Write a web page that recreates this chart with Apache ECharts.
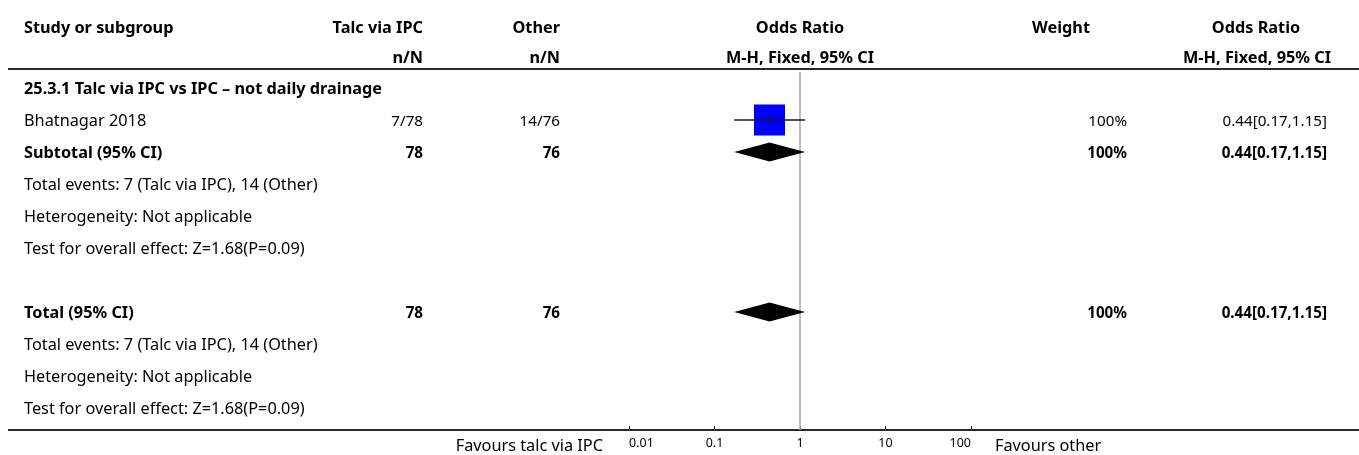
<!DOCTYPE html>
<html>
<head>
<meta charset="utf-8">
<script src="https://cdn.jsdelivr.net/npm/echarts@6/dist/echarts.min.js"></script>
<style>
  html, body { margin: 0; padding: 0; background: #fff; }
  #chart { width: 1359px; height: 455px; }
</style>
</head>
<body>
<div id="chart"></div>
<script>
// ---- Data -------------------------------------------------------------
const headerRow1 = ['Study or subgroup', 'Talc via IPC', 'Other', 'Odds Ratio', 'Weight', 'Odds Ratio'];
const headerRow2 = ['', 'n/N', 'n/N', 'M-H, Fixed, 95% CI', '', 'M-H, Fixed, 95% CI'];

const subgroupTitle = '25.3.1 Talc via IPC vs IPC – not daily drainage';

// individual studies
const studyNames   = ['Bhatnagar 2018'];
const studyTalc    = ['7/78'];
const studyOther   = ['14/76'];
const studyOR      = [0.44];
const studyLow     = [0.17];
const studyHigh    = [1.15];
const studyWeight  = [100];

// pooled estimates (subtotal, total)
const pooledNames  = ['Subtotal (95% CI)', 'Total (95% CI)'];
const pooledTalcN  = ['78', '78'];
const pooledOtherN = ['76', '76'];
const pooledOR     = [0.44, 0.44];
const pooledLow    = [0.17, 0.17];
const pooledHigh   = [1.15, 1.15];
const pooledWeight = ['100%', '100%'];

const summaryLines = [
  'Total events: 7 (Talc via IPC), 14 (Other)',
  'Heterogeneity: Not applicable',
  'Test for overall effect: Z=1.68(P=0.09)'
];

const tickValues = [0.01, 0.1, 1, 10, 100];
const favoursLeft = 'Favours talc via IPC';
const favoursRight = 'Favours other';

// row layout of the table (row index from top)
const rowSubgroup = 0;
const rowStudies = [1];
const rowPooled = [2, 7];
const rowSummaryA = [3, 4, 5];
const rowSummaryB = [8, 9, 10];

// ---- Chart ------------------------------------------------------------
const FONT = '"Noto Sans"';
const SIZE = 16.3;     // labels and headings
const NUM = 15.2;      // numeric cells
const DY = 1.5;        // optical baseline nudge for text
const chart = echarts.init(document.getElementById('chart'), null, { renderer: 'canvas' });

const grid = { left: 629, right: 388, top: 72, bottom: 25 };
const yMin = -0.5, yMax = 10.6875;

function fmtCI(or, lo, hi) {
  return or.toFixed(2) + '[' + lo.toFixed(2) + ',' + hi.toFixed(2) + ']';
}

const studyData = studyNames.map((n, i) => [studyOR[i], rowStudies[i], studyLow[i], studyHigh[i], studyWeight[i]]);
const pooledData = pooledNames.map((n, i) => [pooledOR[i], rowPooled[i], pooledLow[i], pooledHigh[i]]);

chart.setOption({
  animation: false,
  grid: grid,
  xAxis: {
    type: 'log', logBase: 10, min: 0.01, max: 100, position: 'bottom',
    splitLine: { show: false },
    axisLine: { show: true, onZero: false, lineStyle: { color: '#222', width: 2 } },
    axisTick: { show: true, inside: true, length: 4, lineStyle: { color: '#222', width: 1 } },
    axisLabel: {
      margin: 7, fontFamily: 'Noto Sans', fontSize: 12.5, color: '#000',
      showMinLabel: true, showMaxLabel: true, alignMinLabel: 'left', alignMaxLabel: 'right',
      formatter: v => {
        const hit = tickValues.find(t => Math.abs(Math.log10(t) - Math.log10(v)) < 1e-6);
        return hit === undefined ? '' : String(hit);
      }
    }
  },
  yAxis: {
    type: 'value', min: yMin, max: yMax, inverse: true, show: false
  },
  series: [
    {
      // line of no effect
      type: 'scatter', data: [], silent: true,
      markLine: {
        symbol: 'none', silent: true, label: { show: false },
        lineStyle: { color: '#a6a6a6', width: 1.5, type: 'solid' },
        data: [{ xAxis: 1 }]
      }
    },
    {
      // study estimates: weighted box, CI whisker, point mark
      type: 'custom',
      data: studyData,
      z: 5,
      renderItem: (params, api) => {
        const or = api.value(0), row = api.value(1), lo = api.value(2), hi = api.value(3), w = api.value(4);
        const c = api.coord([or, row]);
        const pLo = api.coord([lo, row]);
        const pHi = api.coord([hi, row]);
        const box = 31 * Math.sqrt(w / 100);
        return {
          type: 'group',
          children: [
            { type: 'rect', z2: 1, shape: { x: c[0] - box / 2, y: c[1] - box / 2, width: box, height: box },
              style: { fill: '#0000ff' } },
            { type: 'line', z2: 2, shape: { x1: pLo[0], y1: c[1], x2: pHi[0], y2: c[1] },
              style: { stroke: '#1a1a1a', lineWidth: 1.5 } },
            { type: 'line', z2: 2, shape: { x1: c[0], y1: c[1] - 4, x2: c[0], y2: c[1] + 4 },
              style: { stroke: '#1a1a1a', lineWidth: 1.2 } }
          ]
        };
      }
    },
    {
      // pooled estimates: diamonds
      type: 'custom',
      data: pooledData,
      z: 5,
      renderItem: (params, api) => {
        const or = api.value(0), row = api.value(1), lo = api.value(2), hi = api.value(3);
        const c = api.coord([or, row]);
        const pLo = api.coord([lo, row]);
        const pHi = api.coord([hi, row]);
        const h = 9.5;
        return {
          type: 'polygon',
          shape: { points: [[pLo[0], c[1]], [c[0], c[1] - h], [pHi[0], c[1]], [c[0], c[1] + h]] },
          style: { fill: '#000' }
        };
      }
    }
  ]
});

// ---- Table text -------------------------------------------------------
function rowY(r) { return chart.convertToPixel({ gridIndex: 0 }, [1, r])[1]; }

const COL = { study: 24, talc: 423, other: 560, plot: 800, weightHead: 1061, weight: 1127, orHead: 1256, or: 1327, orHead2: 1331 };

const texts = [];
function txt(str, x, y, align, bold, size) {
  texts.push({
    type: 'text', x: x, y: y + DY, silent: true,
    style: {
      text: str, x: 0, y: 0, textAlign: align, textVerticalAlign: 'middle',
      font: (bold ? 'bold ' : '') + (size || SIZE) + 'px ' + FONT, fill: '#000'
    }
  });
}

// header
const hy1 = 27, hy2 = 57;
txt(headerRow1[0], COL.study, hy1, 'left', true);
txt(headerRow1[1], COL.talc, hy1, 'right', true);
txt(headerRow1[2], COL.other, hy1, 'right', true);
txt(headerRow1[3], COL.plot, hy1, 'center', true);
txt(headerRow1[4], COL.weightHead, hy1, 'center', true);
txt(headerRow1[5], COL.orHead, hy1, 'center', true);
txt(headerRow2[1], COL.talc, hy2, 'right', true);
txt(headerRow2[2], COL.other, hy2, 'right', true);
txt(headerRow2[3], COL.plot, hy2, 'center', true);
txt(headerRow2[5], COL.orHead2, hy2, 'right', true);

// subgroup title
txt(subgroupTitle, COL.study, rowY(rowSubgroup), 'left', true);

// studies
studyNames.forEach((n, i) => {
  const y = rowY(rowStudies[i]);
  txt(n, COL.study, y, 'left', false);
  txt(studyTalc[i], COL.talc, y, 'right', false, NUM);
  txt(studyOther[i], COL.other, y, 'right', false, NUM);
  txt(studyWeight[i] + '%', COL.weight, y, 'right', false, NUM);
  txt(fmtCI(studyOR[i], studyLow[i], studyHigh[i]), COL.or, y, 'right', false, NUM);
});

// pooled rows
pooledNames.forEach((n, i) => {
  const y = rowY(rowPooled[i]);
  txt(n, COL.study, y, 'left', true);
  txt(pooledTalcN[i], COL.talc, y, 'right', true, NUM);
  txt(pooledOtherN[i], COL.other, y, 'right', true, NUM);
  txt(pooledWeight[i], COL.weight, y, 'right', true, NUM);
  txt(fmtCI(pooledOR[i], pooledLow[i], pooledHigh[i]), COL.or, y, 'right', true, NUM);
});

// summary statistics
rowSummaryA.forEach((r, i) => txt(summaryLines[i], COL.study, rowY(r), 'left', false));
rowSummaryB.forEach((r, i) => txt(summaryLines[i], COL.study, rowY(r), 'left', false));

// favours labels either side of the axis
txt(favoursLeft, 603, 445, 'right', false);
txt(favoursRight, 995, 445, 'left', false);

// horizontal rules
const rules = [69, 430].map(y => ({
  type: 'line', silent: true, z: 1,
  shape: { x1: 8, y1: y, x2: 1359, y2: y },
  style: { stroke: '#2a2a2a', lineWidth: 2 }
}));

chart.setOption({ graphic: { elements: texts.concat(rules) } });
</script>
</body>
</html>
